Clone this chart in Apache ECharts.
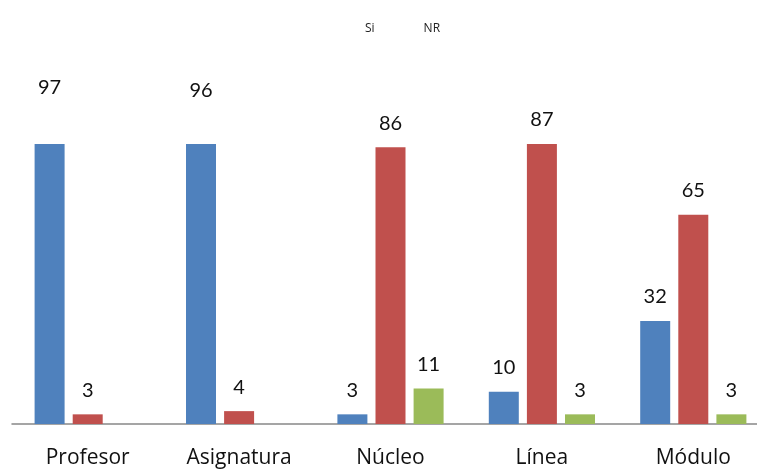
<!DOCTYPE html>
<html>
<head>
<meta charset="utf-8">
<script src="https://cdn.jsdelivr.net/npm/echarts@6/dist/echarts.min.js"></script>
<style>
  html, body { margin: 0; padding: 0; background: #fff; }
  #chart { width: 757px; height: 472px; }
</style>
</head>
<body>
<div id="chart"></div>
<script>
// Response shares per item (percent)
const categories = ['Profesor', 'Asignatura', 'Núcleo', 'Línea', 'Módulo'];
const seriesNames = ['Si', 'No', 'NR'];
const siValues = [97, 96, 3, 10, 32];
const noValues = [3, 4, 86, 87, 65];
const nrValues = [null, null, 11, 3, 3];
const legendLabels = ['Si', 'NR'];

// Value axis stops at the tallest "No" bar; taller bars are cut at the plot top
const axisMax = 87;

const colors = ['#4F81BD', '#C0504D', '#9BBB59'];
const labelFont = { fontFamily: 'Lato, "Open Sans", sans-serif', fontSize: 20, color: '#111' };

const chart = echarts.init(document.getElementById('chart'), null, { renderer: 'canvas' });

function makeSeries(name, values, color, offsets) {
  return {
    name: name,
    type: 'bar',
    barWidth: 30,
    barGap: '27%',
    clip: true,
    itemStyle: { color: color },
    label: Object.assign({ show: true, position: 'top', distance: 14 }, labelFont),
    data: values.map((v, i) => {
      const item = { value: v == null ? '-' : v };
      if (offsets && offsets[i]) item.label = { offset: [0, offsets[i]] };
      return item;
    })
  };
}

function buildOption(siOffsets) {
  return {
    animation: false,
    backgroundColor: '#fff',
    legend: {
      data: legendLabels,
      top: 18,
      left: 355,
      icon: 'rect',
      itemWidth: 0,
      itemHeight: 0,
      itemGap: 44,
      textStyle: { fontFamily: '"Open Sans", Lato, sans-serif', fontSize: 12, color: '#222' }
    },
    // the plot runs a little past the right edge of the canvas
    grid: { left: 12, width: 757, top: 144, bottom: 48, containLabel: false, outerBoundsMode: 'none' },
    xAxis: {
      type: 'category',
      data: categories,
      axisLine: { lineStyle: { color: '#888', width: 1.5 } },
      axisTick: { show: false },
      axisLabel: { margin: 24, fontFamily: '"Open Sans", Lato, sans-serif', fontSize: 21, color: '#111' }
    },
    yAxis: {
      type: 'value',
      min: 0,
      max: axisMax,
      show: false,
      splitLine: { show: false }
    },
    series: [
      makeSeries(seriesNames[0], siValues, colors[0], siOffsets),
      makeSeries(seriesNames[1], noValues, colors[1]),
      makeSeries(seriesNames[2], nrValues, colors[2])
    ]
  };
}

chart.setOption(buildOption(null));

// Bars above the axis maximum are clipped; lift their labels to where the value lies on the scale
const topPx = chart.convertToPixel({ yAxisIndex: 0 }, axisMax);
const siOffsets = siValues.map(v => v > axisMax ? chart.convertToPixel({ yAxisIndex: 0 }, v) - topPx : 0);
chart.setOption(buildOption(siOffsets));
</script>
</body>
</html>
